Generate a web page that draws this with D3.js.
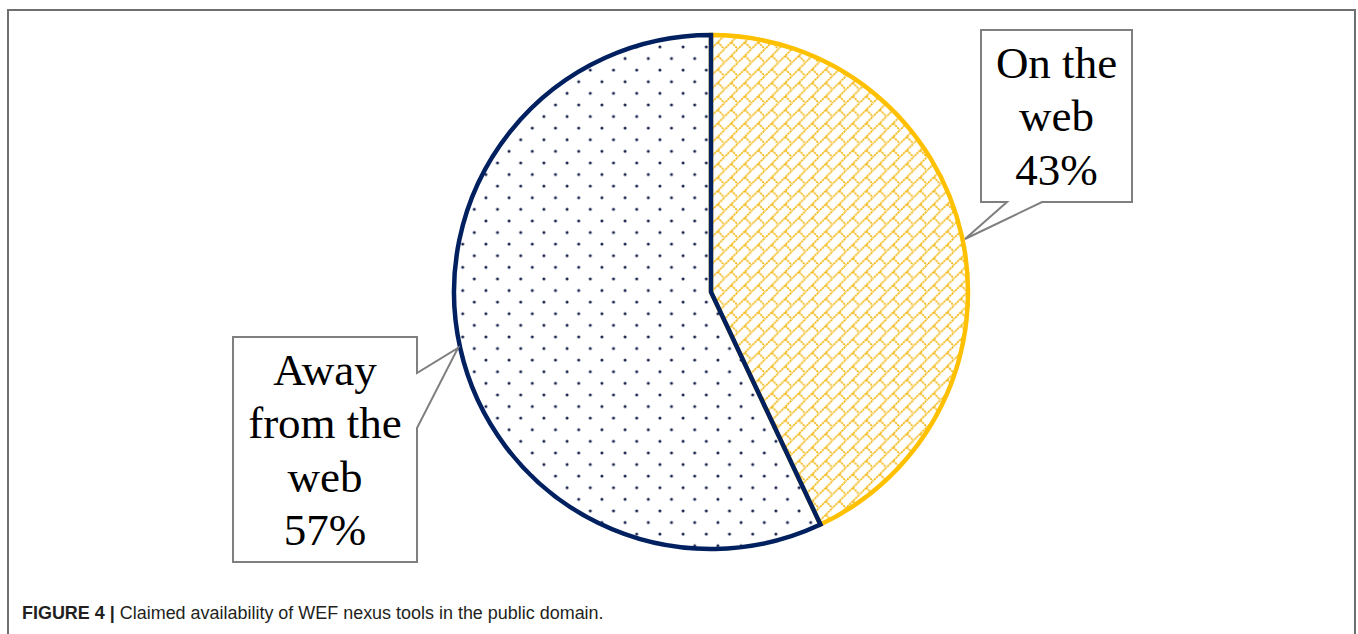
<!DOCTYPE html>
<html>
<head>
<meta charset="utf-8">
<script src="https://cdn.jsdelivr.net/npm/d3@7"></script>
<style>
  html, body { margin: 0; padding: 0; background: #fff; }
  svg { display: block; }
</style>
</head>
<body>
<svg id="chart" width="1358" height="634"></svg>
<script>
// ---- data ----
const categories = ["On the web", "Away from the web"];
const values = [43, 57];
const labelLines = [["On the", "web"], ["Away", "from the", "web"]];
const captionBold = "FIGURE 4 |";
const captionText = " Claimed availability of WEF nexus tools in the public domain.";

// ---- drawing ----
const svg = d3.select("#chart");
const W = 1358, H = 634;
svg.append("rect").attr("width", W).attr("height", H).attr("fill", "#fff");

// outer figure frame (open at bottom, continues beyond the view)
svg.append("path")
  .attr("d", "M8,650 V10 H1355 V650")
  .attr("fill", "none").attr("stroke", "#6f6f6f").attr("stroke-width", 2);

const cx = 711, cy = 292, r = 257;

const defs = svg.append("defs");
// diagonal brick pattern for "On the web"
const bt = 13.5;
const bp = defs.append("pattern").attr("id", "brick")
  .attr("patternUnits", "userSpaceOnUse")
  .attr("width", bt).attr("height", bt);
bp.append("path")
  .attr("d", `M-1,${bt + 1} L${bt + 1},-1 M${bt / 2},${bt / 2} L${bt + 1},${bt + 1} M-1,-1 L0.5,0.5`)
  .attr("stroke", "#F2B60F").attr("stroke-width", 1.7).attr("fill", "none")
  .attr("stroke-dasharray", "2.2,0.7");

// dotted pattern for "Away from the web" (coordinates relative to pie centre)
const s = 11.6;
const dp = defs.append("pattern").attr("id", "dots")
  .attr("patternUnits", "userSpaceOnUse")
  .attr("x", 462.7 - cx - s / 2).attr("y", 267.3 - cy - s / 2)
  .attr("width", 2 * s).attr("height", 2 * s);
dp.append("circle").attr("cx", s / 2).attr("cy", s / 2).attr("r", 1.5).attr("fill", "#15204a");
dp.append("circle").attr("cx", 1.5 * s).attr("cy", 1.5 * s).attr("r", 1.5).attr("fill", "#15204a");

const fills = ["url(#brick)", "url(#dots)"];
const strokes = ["#FFC000", "#002060"];

const pie = d3.pie().sort(null).value(d => d)(values);
const arc = d3.arc().innerRadius(0).outerRadius(r);
const g = svg.append("g").attr("transform", `translate(${cx},${cy})`);
g.selectAll("path.bg").data(pie).join("path")
  .attr("class", "bg").attr("d", arc).attr("fill", "#fff");
g.selectAll("path.slice").data(pie).join("path")
  .attr("class", "slice")
  .attr("d", arc)
  .attr("fill", (d, i) => fills[i])
  .attr("stroke", (d, i) => strokes[i])
  .attr("stroke-width", 4.5)
  .attr("stroke-linejoin", "miter");

// callouts
const calloutColor = "#7f7f7f";
const callouts = [
  { path: "M981,30 H1132 V202 H1042 L965,239 L1007,202 H981 Z", cx: 1056.5, top: 30 },
  { path: "M233,337 H417 V373 L458,348 L417,428 V562 H233 Z", cx: 325, top: 337 }
];
callouts.forEach((c, i) => {
  svg.append("path").attr("d", c.path)
    .attr("fill", "#fff").attr("stroke", calloutColor).attr("stroke-width", 2)
    .attr("stroke-linejoin", "miter");
  const lines = labelLines[i].concat([values[i] + "%"]);
  const t = svg.append("text")
    .attr("font-family", "'Liberation Serif', 'Times New Roman', serif")
    .attr("font-size", 45).attr("fill", "#000")
    .attr("text-anchor", "middle");
  lines.forEach((ln, k) => {
    t.append("tspan").attr("x", c.cx).attr("y", c.top + 47.5 + k * 53.6).text(ln);
  });
});

// caption
const cap = svg.append("text")
  .attr("x", 22).attr("y", 619)
  .attr("font-family", "'Liberation Sans', Arial, sans-serif")
  .attr("font-size", 17.5).attr("fill", "#231f20");
cap.append("tspan").attr("font-weight", "bold").text(captionBold);
cap.append("tspan").text(captionText);
const bw = cap.node().getComputedTextLength();
const target = 582;
cap.attr("transform", `translate(22,0) scale(${target / bw},1) translate(-22,0)`);
</script>
</body>
</html>
